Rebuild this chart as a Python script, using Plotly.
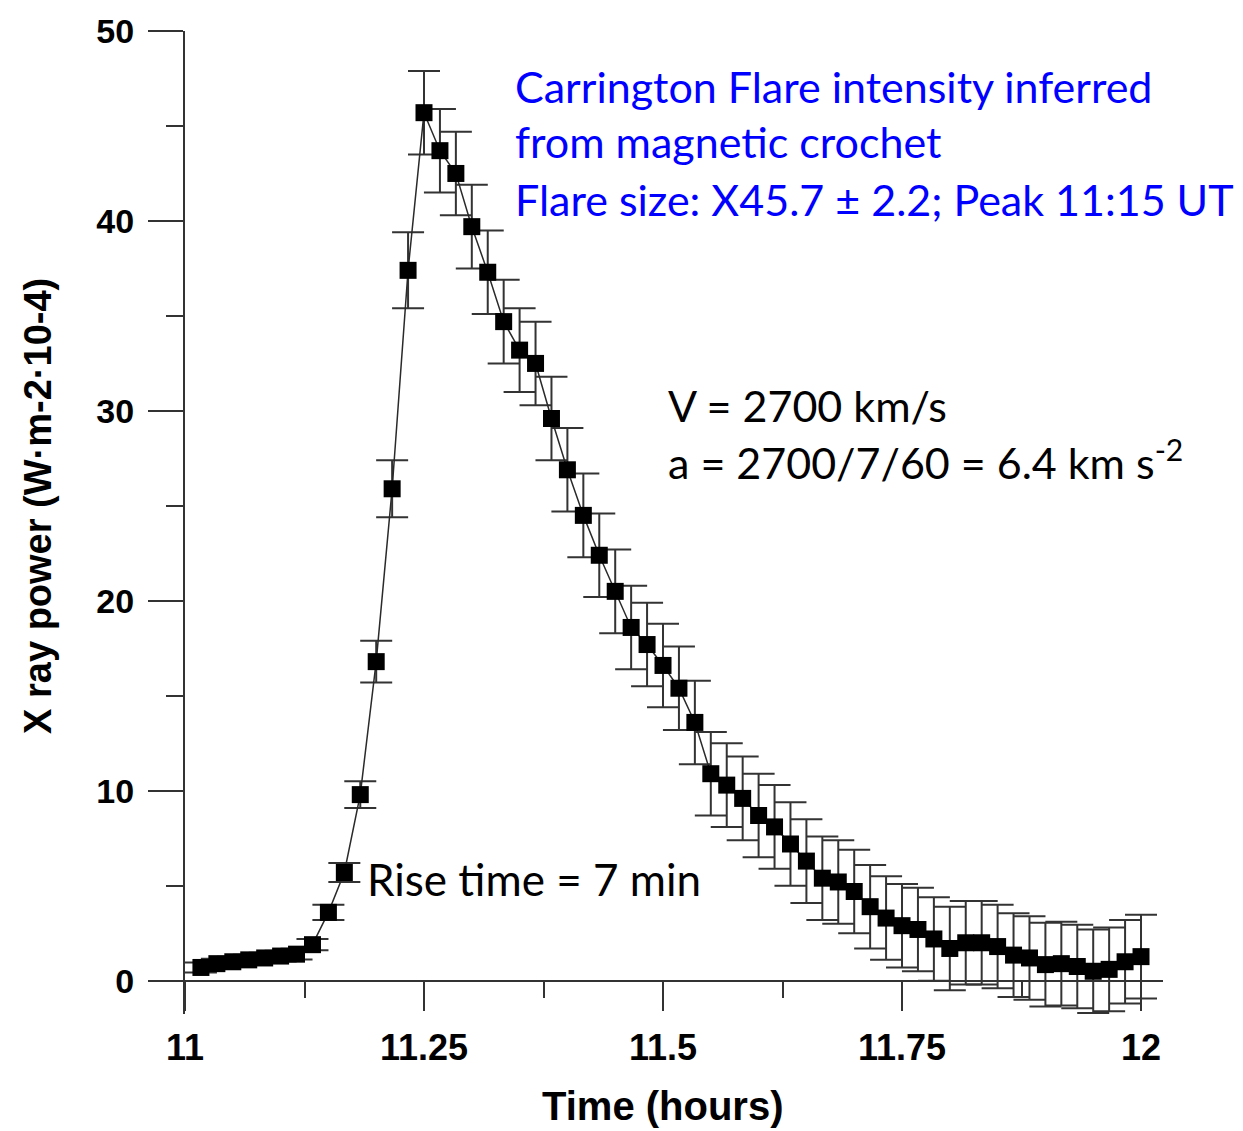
import plotly.graph_objects as go

# minutes after 11:00 UT
minutes = list(range(1, 61))
power = [0.7, 0.9, 1.0, 1.1, 1.2, 1.3, 1.4, 1.9, 3.6, 5.7,
         9.8, 16.8, 25.9, 37.4, 45.7, 43.7, 42.5, 39.7, 37.3, 34.7,
         33.2, 32.5, 29.6, 26.9, 24.5, 22.4, 20.5, 18.6, 17.7, 16.6,
         15.4, 13.6, 10.9, 10.3, 9.6, 8.7, 8.1, 7.2, 6.3, 5.4,
         5.2, 4.7, 3.9, 3.3, 2.9, 2.7, 2.2, 1.7, 2.0, 2.0,
         1.8, 1.35, 1.2, 0.85, 0.9, 0.75, 0.5, 0.6, 1.0, 1.27]
error = [0.26, 0.26, 0.26, 0.27, 0.27, 0.28, 0.28, 0.3, 0.4, 0.5,
         0.7, 1.1, 1.5, 2.0, 2.2] + [2.2] * 45
time_hours = [11 + m / 60 for m in minutes]

x_ticks = [11, 11.25, 11.5, 11.75, 12]
x_ticklabels = ["11", "11.25", "11.5", "11.75", "12"]
y_ticks = [0, 10, 20, 30, 40, 50]

Y_MIN, Y_MAX = -1.75, 50

fig = go.Figure()
fig.add_trace(go.Scatter(
    x=time_hours, y=power,
    mode="lines+markers",
    line=dict(color="#2a2a2a", width=1.5),
    marker=dict(symbol="square", size=17, color="black"),
    error_y=dict(type="data", array=error, visible=True,
                 color="#333333", thickness=2, width=16),
    cliponaxis=False,
    showlegend=False,
))

axis_font = "Liberation Sans, Arial, sans-serif"
fig.update_layout(
    width=1243, height=1131,
    margin=dict(l=185, r=80, t=26, b=117),
    paper_bgcolor="white", plot_bgcolor="white",
    xaxis=dict(range=[11, 12.023], showline=True, linecolor="#333333", linewidth=2,
               showgrid=False, zeroline=False,
               anchor="free", position=(0 - Y_MIN) / (Y_MAX - Y_MIN),
               tickmode="array", tickvals=x_ticks, ticktext=x_ticklabels,
               ticks="outside", ticklen=29, tickwidth=2, tickcolor="#333333",
               ticklabelstandoff=6,
               tickfont=dict(family=axis_font, size=36, color="black", weight=700),
               minor=dict(ticks="outside", ticklen=16, tickwidth=2, tickcolor="#333333",
                          dtick=0.125, tick0=11, showgrid=False)),
    yaxis=dict(range=[Y_MIN, Y_MAX], showline=True, linecolor="#333333", linewidth=2,
               showgrid=False, zeroline=False,
               tickmode="array", tickvals=y_ticks,
               ticks="outside", ticklen=35, tickwidth=2, tickcolor="#333333",
               ticklabelstandoff=7,
               tickfont=dict(family=axis_font, size=34, color="black", weight=700),
               minor=dict(ticks="outside", ticklen=17, tickwidth=2, tickcolor="#333333",
                          dtick=5, tick0=0, showgrid=False)),
)

txt_font = "Lato, Carlito, Calibri, sans-serif"
blue = "#0000ff"
blue_lines = ["Carrington Flare intensity inferred",
              "from magnetic crochet",
              "Flare size: X45.7 \u00b1 2.2; Peak 11:15 UT"]
blue_y = [47.1, 44.17, 41.14]
for t, yv in zip(blue_lines, blue_y):
    fig.add_annotation(x=11.343, y=yv, xref="x", yref="y", text=t, showarrow=False,
                       xanchor="left", yanchor="middle",
                       font=dict(family=txt_font, size=43, color=blue))

fig.add_annotation(x=11.503, y=30.3, text="V = 2700 km/s", showarrow=False,
                   xanchor="left", yanchor="middle",
                   font=dict(family=txt_font, size=43, color="black"))
fig.add_annotation(x=11.503, y=27.45, text="a = 2700/7/60 = 6.4 km s<sup>-2</sup>",
                   showarrow=False, xanchor="left", yanchor="middle",
                   font=dict(family=txt_font, size=43, color="black"))
fig.add_annotation(x=11.188, y=5.35, text="Rise time = 7 min", showarrow=False,
                   xanchor="left", yanchor="middle",
                   font=dict(family=txt_font, size=44, color="black"))

title_font = "Liberation Sans, Arial, sans-serif"
fig.add_annotation(xref="paper", yref="y", x=0, y=25, xshift=-147,
                   text="X ray power (W\u00b7m-2\u00b710-4)", showarrow=False,
                   textangle=-90, xanchor="center", yanchor="middle",
                   font=dict(family=title_font, size=38, color="black", weight=700))
fig.add_annotation(xref="x", yref="paper", x=11.5, y=0, yshift=-92,
                   text="Time (hours)", showarrow=False,
                   xanchor="center", yanchor="middle",
                   font=dict(family=title_font, size=40, color="black", weight=700))

fig.write_html("out.html")
